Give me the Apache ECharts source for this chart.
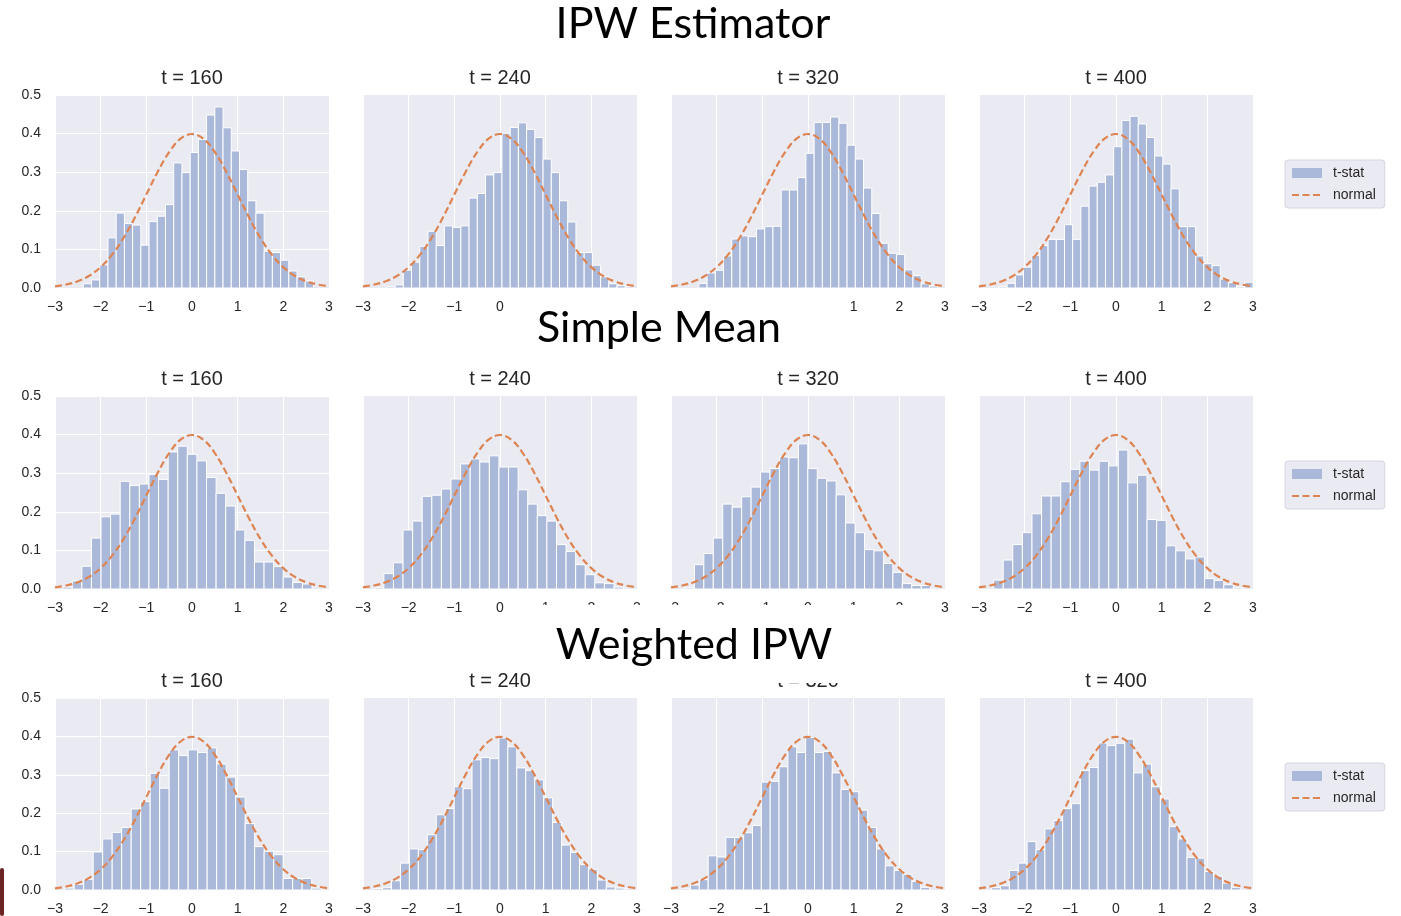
<!DOCTYPE html>
<html>
<head>
<meta charset="utf-8">
<script src="https://cdn.jsdelivr.net/npm/echarts@6/dist/echarts.min.js"></script>
<style>
html,body{margin:0;padding:0;background:#fff;}
#chart{width:1401px;height:916px;}
</style>
</head>
<body>
<div id="chart"></div>
<script>
// ---------- data ----------
const rowTitles = ['IPW Estimator', 'Simple Mean', 'Weighted IPW'];
const panelTitles = ['t = 160', 't = 240', 't = 320', 't = 400'];
const xTicks = [-3, -2, -1, 0, 1, 2, 3];
const yTicks = [0, 0.1, 0.2, 0.3, 0.4, 0.5];

// IPW Estimator histograms (density)
const ipw160 = [0.011, 0.021, 0.06, 0.13, 0.194, 0.167, 0.163, 0.111, 0.172, 0.186, 0.216, 0.324, 0.299, 0.351, 0.385, 0.448, 0.469, 0.415, 0.355, 0.307, 0.226, 0.194, 0.095, 0.092, 0.072, 0.044, 0.029, 0.018];
const ipw240 = [0.003, 0.008, 0.046, 0.067, 0.108, 0.147, 0.110, 0.161, 0.157, 0.161, 0.233, 0.245, 0.293, 0.299, 0.401, 0.416, 0.428, 0.411, 0.39, 0.334, 0.299, 0.226, 0.171, 0.092, 0.092, 0.059, 0.029, 0.011, 0.006, 0.003];
const ipw320 = [0.012, 0.039, 0.046, 0.083, 0.127, 0.135, 0.133, 0.153, 0.159, 0.16, 0.254, 0.254, 0.286, 0.349, 0.429, 0.429, 0.443, 0.427, 0.37, 0.334, 0.259, 0.193, 0.116, 0.09, 0.087, 0.047, 0.032, 0.011, 0.005];
const ipw400 = [0.003, 0.012, 0.034, 0.054, 0.085, 0.11, 0.126, 0.126, 0.164, 0.126, 0.212, 0.264, 0.274, 0.293, 0.366, 0.434, 0.445, 0.425, 0.39, 0.342, 0.321, 0.257, 0.159, 0.159, 0.083, 0.063, 0.058, 0.023, 0.014, 0.003, 0.015];
const ipwBinStart = [-2.38, -2.477, -2.39, -2.564];
const ipwBinWidth = [0.18, 0.18, 0.1803, 0.1795];

// Simple Mean histograms
const mean160 = [0.005, 0.021, 0.059, 0.132, 0.187, 0.194, 0.279, 0.268, 0.272, 0.297, 0.284, 0.355, 0.37, 0.349, 0.332, 0.289, 0.248, 0.215, 0.153, 0.126, 0.07, 0.07, 0.058, 0.031, 0.017, 0.013];
const mean240 = [0.003, 0.04, 0.068, 0.153, 0.176, 0.24, 0.243, 0.259, 0.285, 0.324, 0.337, 0.329, 0.345, 0.316, 0.316, 0.257, 0.22, 0.19, 0.176, 0.115, 0.097, 0.063, 0.037, 0.016, 0.014, 0.005];
const mean320 = [0.003, 0.063, 0.092, 0.132, 0.22, 0.212, 0.239, 0.264, 0.303, 0.312, 0.342, 0.34, 0.376, 0.312, 0.287, 0.28, 0.244, 0.171, 0.146, 0.102, 0.099, 0.066, 0.043, 0.014, 0.009, 0.009];
const mean400 = [0.023, 0.075, 0.115, 0.146, 0.195, 0.241, 0.241, 0.278, 0.31, 0.331, 0.308, 0.331, 0.319, 0.36, 0.275, 0.295, 0.18, 0.178, 0.112, 0.099, 0.078, 0.083, 0.027, 0.022, 0.011, 0.003];
const meanBinStart = [-2.832, -2.753, -2.695, -2.68];
const meanBinWidth = [0.21, 0.21, 0.207, 0.21];

// Weighted IPW histograms
const wipw160 = [0.005, 0.015, 0.028, 0.099, 0.133, 0.15, 0.163, 0.211, 0.23, 0.304, 0.265, 0.365, 0.35, 0.365, 0.358, 0.37, 0.328, 0.294, 0.242, 0.173, 0.113, 0.101, 0.092, 0.03, 0.03, 0.03, 0.005];
const wipw240 = [0.004, 0.006, 0.024, 0.07, 0.107, 0.105, 0.144, 0.196, 0.212, 0.269, 0.264, 0.339, 0.345, 0.342, 0.396, 0.373, 0.318, 0.311, 0.287, 0.24, 0.176, 0.117, 0.098, 0.066, 0.054, 0.026, 0.008, 0.005, 0.003];
const wipw320 = [0.003, 0.013, 0.027, 0.089, 0.086, 0.137, 0.137, 0.149, 0.168, 0.281, 0.283, 0.321, 0.373, 0.358, 0.397, 0.358, 0.361, 0.305, 0.262, 0.256, 0.208, 0.163, 0.107, 0.063, 0.051, 0.041, 0.022, 0.007];
const wipw400 = [0.006, 0.011, 0.051, 0.07, 0.126, 0.105, 0.159, 0.181, 0.212, 0.225, 0.311, 0.319, 0.383, 0.376, 0.382, 0.393, 0.305, 0.328, 0.269, 0.237, 0.165, 0.133, 0.085, 0.083, 0.048, 0.036, 0.018, 0.007];
const wipwBinStart = [-2.788, -2.768, -2.768, -2.724];
const wipwBinWidth = [0.208, 0.196, 0.194, 0.1945];

// reference normal curve (read values)
const normalX = [-3, -2.75, -2.5, -2.25, -2, -1.75, -1.5, -1.25, -1, -0.75, -0.5, -0.25, 0, 0.25, 0.5, 0.75, 1, 1.25, 1.5, 1.75, 2, 2.25, 2.5, 2.75, 3];
const normalY = [0.0044, 0.0091, 0.0175, 0.0317, 0.054, 0.0863, 0.1295, 0.1826, 0.242, 0.3011, 0.3521, 0.3867, 0.3989, 0.3867, 0.3521, 0.3011, 0.242, 0.1826, 0.1295, 0.0863, 0.054, 0.0317, 0.0175, 0.0091, 0.0044];

// ---------- layout ----------
const colLeft = [55, 363, 671, 979];
const rowTop = [95, 396, 698];
const plotW = 274, plotH = 193;
const barColor = '#AAB9D9';
const lineColor = '#DD8452';
const textColor = '#262626';
const FONT = 'Liberation Sans, Arial, sans-serif';

const rows = [
  { hist: [ipw160, ipw240, ipw320, ipw400], start: ipwBinStart, width: ipwBinWidth },
  { hist: [mean160, mean240, mean320, mean400], start: meanBinStart, width: meanBinWidth },
  { hist: [wipw160, wipw240, wipw320, wipw400], start: wipwBinStart, width: wipwBinWidth }
];

const minus = v => (v < 0 ? '\u2212' + Math.abs(v) : String(v));

const grids = [], xAxes = [], yAxes = [], series = [], titles = [], legends = [];
rows.forEach((row, r) => {
  row.hist.forEach((h, c) => {
    const gi = grids.length;
    grids.push({ left: colLeft[c], top: rowTop[r], width: plotW, height: plotH, show: true,
      backgroundColor: '#EAEAF2', borderWidth: 0 });
    xAxes.push({ gridIndex: gi, type: 'value', min: xTicks[0], max: xTicks[xTicks.length - 1], interval: 1,
      axisLine: { show: false }, axisTick: { show: false },
      axisLabel: { color: textColor, fontSize: 14, fontFamily: FONT, margin: 12, formatter: minus },
      splitLine: { show: true, lineStyle: { color: '#ffffff', width: 1 } } });
    yAxes.push({ gridIndex: gi, type: 'value', min: yTicks[0], max: yTicks[yTicks.length - 1], interval: 0.1,
      axisLine: { show: false }, axisTick: { show: false },
      axisLabel: { show: c === 0, color: textColor, fontSize: 14, fontFamily: FONT, margin: 14,
        formatter: v => v.toFixed(1) },
      splitLine: { show: c === 0, lineStyle: { color: '#ffffff', width: 1 } } });
    const s0 = row.start[c], w = row.width[c];
    series.push({
      name: 't-stat', type: 'custom', xAxisIndex: gi, yAxisIndex: gi,
      itemStyle: { color: barColor },
      encode: { x: [0, 1], y: 2 },
      data: h.map((v, i) => [s0 + i * w, s0 + (i + 1) * w, v]),
      renderItem: (params, api) => {
        const p0 = api.coord([api.value(0), 0]);
        const p1 = api.coord([api.value(1), api.value(2)]);
        return { type: 'rect',
          shape: { x: p0[0], y: p1[1], width: p1[0] - p0[0], height: p0[1] - p1[1] },
          style: { fill: barColor, stroke: '#ffffff', lineWidth: 1 } };
      },
      z: 2
    });
    series.push({
      name: 'normal', type: 'line', xAxisIndex: gi, yAxisIndex: gi,
      data: normalX.map((x, i) => [x, normalY[i]]),
      smooth: 0.4, symbol: 'none', showSymbol: false,
      lineStyle: { color: lineColor, width: 2.2, type: [7, 3.5] },
      itemStyle: { color: lineColor },
      z: 3
    });
    titles.push({ text: panelTitles[c], left: colLeft[c] + plotW / 2, top: rowTop[r] - 27, textAlign: 'center',
      padding: 0, textStyle: { fontSize: 20, fontWeight: 'normal', color: textColor, fontFamily: FONT } });
  });
  legends.push({
    orient: 'vertical', left: 1285, top: rowTop[r] + 65,
    data: [{ name: 't-stat', icon: 'rect' },
           { name: 'normal', itemStyle: { opacity: 0, color: 'rgba(0,0,0,0)', borderWidth: 0 } }],
    itemWidth: 30, itemHeight: 10, itemGap: 8,
    padding: [6, 9, 6, 6],
    backgroundColor: '#EAEAF2', borderColor: '#D6D6DE', borderWidth: 1, borderRadius: 3,
    lineStyle: { width: 2 },
    textStyle: { color: textColor, fontSize: 14, fontFamily: FONT, padding: [0, 0, 0, 6] },
    selectedMode: false
  });
});

const mainTitlePos = [[693, 24], [659, 328], [694, 645]];
const graphic = [
  // white overlays of the original slide's title boxes
  { type: 'rect', shape: { x: 520, y: 296, width: 315, height: 66 }, style: { fill: '#ffffff' }, z: 50 },
  { type: 'rect', shape: { x: 536, y: 605, width: 399, height: 78 }, style: { fill: '#ffffff' }, z: 50 },
  { type: 'rect', shape: { x: 0, y: 868, width: 4, height: 48, r: 2 }, style: { fill: '#6B2424' }, z: 50 }
];
rowTitles.forEach((t, i) => {
  graphic.push({ type: 'text', x: mainTitlePos[i][0], y: mainTitlePos[i][1], z: 60,
    style: { text: t, fill: '#000000', font: '43px Lato, "Open Sans", sans-serif', align: 'center', verticalAlign: 'middle' } });
});

const chart = echarts.init(document.getElementById('chart'), null, { renderer: 'canvas' });
chart.setOption({
  animation: false,
  backgroundColor: '#ffffff',
  title: titles,
  legend: legends,
  grid: grids,
  xAxis: xAxes,
  yAxis: yAxes,
  series: series,
  graphic: graphic
});
</script>
</body>
</html>
